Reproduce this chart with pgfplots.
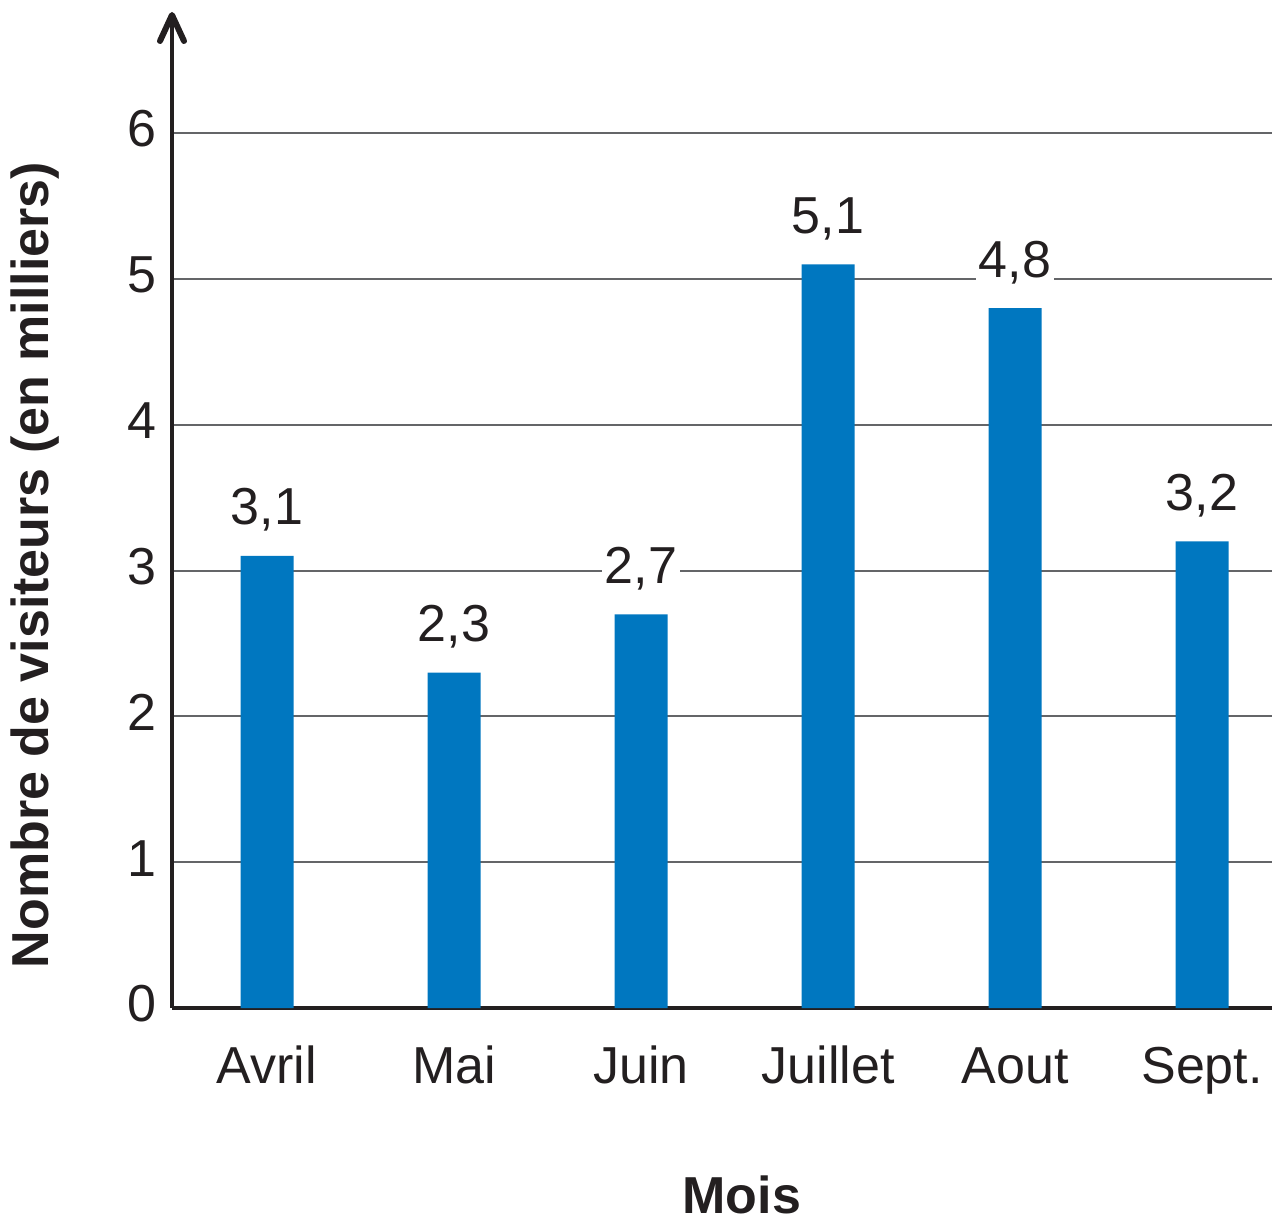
\documentclass[border=0pt]{standalone}
\usepackage{pgfplots}
\pgfplotsset{compat=1.18}
\usepackage{fontspec}
\setmainfont{Liberation Sans}
\usetikzlibrary{arrows.meta,calc}
\definecolor{barblue}{RGB}{0,119,192}
\definecolor{axisdark}{RGB}{35,31,32}
\definecolor{gridgray}{RGB}{100,101,104}
\begin{document}
\begin{tikzpicture}
\fontsize{26}{31}\selectfont
\begin{axis}[
  name=ax,
  at={(0,0)}, anchor=south west,
  scale only axis,
  width=550pt, height=498pt,
  xmin=-0.508, xmax=5.374,
  ymin=0, ymax=6.83,
  axis x line=bottom, axis y line=left,
  x axis line style={-, line width=2.2pt, color=axisdark},
  y axis line style={-{Straight Barb[length=13pt,width=12pt,line width=3pt,round]}, line width=2.2pt, color=axisdark},
  xtick={0,1,2,3,4,5},
  xticklabels={Avril,Mai,Juin,Juillet,Aout,Sept.},
  ytick={0,1,2,3,4,5,6},
  major tick length=0pt,
  ymajorgrids,
  grid style={gridgray, line width=1pt},
  /pgf/number format/assume math mode=true,
  ticklabel style={font=\fontsize{26}{31}\selectfont, color=axisdark},
  xticklabel style={anchor=base, yshift=-37.5pt, inner sep=0pt},
  yticklabel style={anchor=east, inner sep=0pt, xshift=-7.5pt, yshift=2pt},
  ybar, bar width=26.5pt,
  nodes near coords,
  nodes near coords style={anchor=base, yshift=15.5pt, fill=white, inner sep=1.5pt, text=axisdark, font=\fontsize{26}{31}\selectfont,
    /pgf/number format/.cd, fixed, fixed zerofill, precision=1, use comma, assume math mode=true},
  xlabel={\textbf{Mois}},
  ylabel={\textbf{Nombre de visiteurs (en milliers)}},
  xlabel style={at={(axis description cs:0.518,-0.188)}, anchor=center, font=\fontsize{26}{31}\selectfont, text=axisdark},
  ylabel style={at={(axis description cs:-0.1245,0.4448)}, anchor=center, rotate=0, font=\fontsize{26}{31}\selectfont, text=axisdark},
]
\addplot[fill=barblue, draw=none] coordinates {(0,3.1) (1,2.3) (2,2.7) (3,5.1) (4,4.8) (5,3.2)};
\end{axis}
\pgfresetboundingbox
\path ($(ax.south west)+(-86pt,-107.5pt)$) rectangle ($(ax.south west)+(552.5pt,504pt)$);
\end{tikzpicture}
\end{document}
